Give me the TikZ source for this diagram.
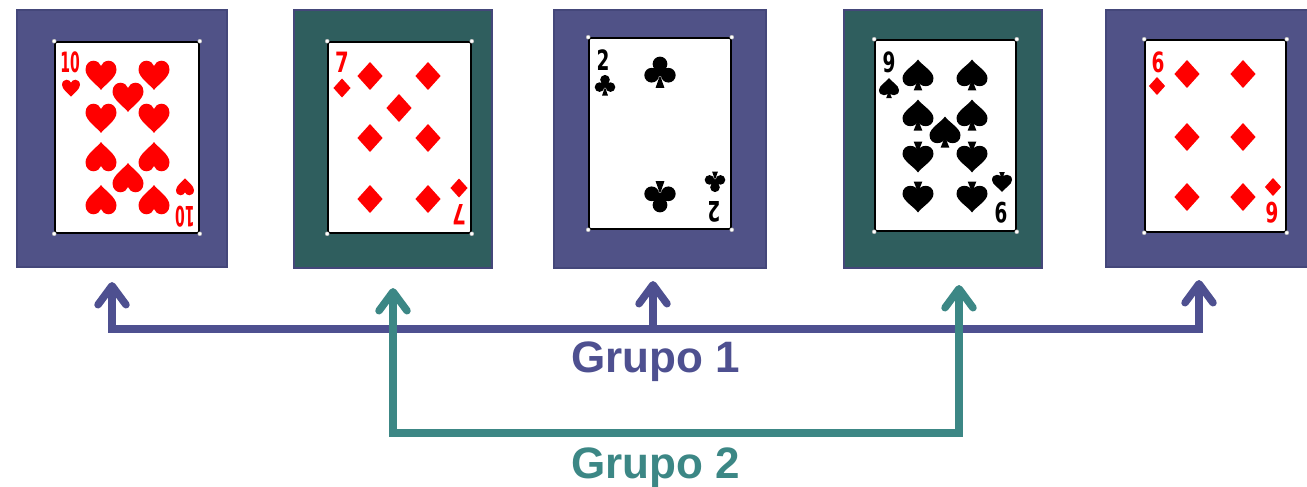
\documentclass[tikz,border=0pt]{standalone}
\usepackage{fontspec}
\setmainfont{Liberation Sans}
\newfontfamily\rankfont{DejaVu Sans}
\usetikzlibrary{arrows.meta}

\definecolor{grpone}{HTML}{4E5090}
\definecolor{grptwo}{HTML}{3C8785}
\definecolor{frameone}{HTML}{505287}
\definecolor{frametwo}{HTML}{2F5E5E}
\definecolor{frameedge}{HTML}{44477A}
\definecolor{pipred}{HTML}{FF0000}

\tikzset{
  x=1pt, y=-1pt,
  frameblue/.style={draw=frameedge, line width=1.4pt, fill=frameone, inner sep=0pt},
  frameteal/.style={draw=frameedge, line width=1.4pt, fill=frametwo, inner sep=0pt},
  cardface/.style={draw=black, line width=1.6pt, fill=white, rounded corners=1.5pt,
    inner sep=0pt, minimum height=191pt},
  rank/.style={inner sep=0pt, font=\rankfont\bfseries\fontsize{28}{28}\selectfont},
  barb/.tip={Straight Barb[round, length=19pt, width=28pt]},
  grponeline/.style={draw=grpone, line width=7.5pt, line join=miter, barb-barb},
  grptwoline/.style={draw=grptwo, line width=7.5pt, line join=miter, barb-barb},
  grplabel/.style={inner sep=0pt, anchor=base west, font=\bfseries\fontsize{44}{44}\selectfont},
  pics/heartpip/.style={code={
    \fill[pipred, yscale=-1] (0,-0.48) .. controls (-0.12,-0.32) and (-0.5,-0.08) .. (-0.5,0.17)
      .. controls (-0.5,0.36) and (-0.37,0.46) .. (-0.25,0.46)
      .. controls (-0.12,0.46) and (-0.03,0.38) .. (0,0.29)
      .. controls (0.03,0.38) and (0.12,0.46) .. (0.25,0.46)
      .. controls (0.37,0.46) and (0.5,0.36) .. (0.5,0.17)
      .. controls (0.5,-0.08) and (0.12,-0.32) .. cycle;}},
  pics/diamondpip/.style={code={
    \fill[pipred] (0,0.5) -- (0.45,0) -- (0,-0.5) -- (-0.45,0) -- cycle;}},
  pics/spadepip/.style={code={
    \fill[black, yscale=-1] (0,0.5) .. controls (0.12,0.32) and (0.5,0.12) .. (0.5,-0.1)
      .. controls (0.5,-0.28) and (0.37,-0.36) .. (0.25,-0.36)
      .. controls (0.13,-0.36) and (0.04,-0.3) .. (0,-0.2)
      .. controls (-0.04,-0.3) and (-0.13,-0.36) .. (-0.25,-0.36)
      .. controls (-0.37,-0.36) and (-0.5,-0.28) .. (-0.5,-0.1)
      .. controls (-0.5,0.12) and (-0.12,0.32) .. cycle
      (0,-0.15) -- (0.14,-0.5) -- (-0.14,-0.5) -- cycle;}},
  pics/clubpip/.style={code={
    \fill[black, yscale=-1] (0,0.25) circle (0.23) (-0.26,-0.1) circle (0.23)
      (0.26,-0.1) circle (0.23) (0,0.02) circle (0.15)
      (0,-0.1) -- (0.14,-0.5) -- (-0.14,-0.5) -- cycle;}},
}

\newcommand\cardcorners[1]{%
  \foreach \cc in {north west,north east,south west,south east}
    \filldraw[fill=white, draw=gray!60, line width=0.4pt] (#1.\cc) circle (2);}

\begin{document}
\begin{tikzpicture}
\useasboundingbox (0,0) rectangle (1307,487);
\clip (0,0) rectangle (1307,487);
\fill[white] (0,0) rectangle (1307,487);

% frames
\node[frameblue, minimum width=210pt, minimum height=257pt] (f1) at (122,138.5) {};
\node[frameteal, minimum width=198pt, minimum height=258pt] (f2) at (393,139) {};
\node[frameblue, minimum width=212pt, minimum height=258pt] (f3) at (660,139) {};
\node[frameteal, minimum width=198pt, minimum height=258pt] (f4) at (943,139) {};
\node[frameblue, minimum width=206pt, minimum height=257pt] (f5) at (1209,138.5) {};

% card faces
\node[cardface, minimum width=144pt] (c1) at (127,137.5) {};
\node[cardface, minimum width=143pt] (c2) at (399.5,137.5) {};
\node[cardface, minimum width=142pt] (c3) at (660,133.5) {};
\node[cardface, minimum width=141pt] (c4) at (945.5,135.5) {};
\node[cardface, minimum width=141pt, minimum height=192pt] (c5) at (1215.5,136) {};
\cardcorners{c1}\cardcorners{c2}\cardcorners{c3}\cardcorners{c4}\cardcorners{c5}

% ten of hearts
\node[rank, text=pipred] (r1a) at (70,62) {\scalebox{0.5}[1]{10}};
\pic[scale=18] at (71,88) {heartpip};
\pic[scale=18, rotate=180] at (185,187) {heartpip};
\node[rank, text=pipred, rotate=180] (r1b) at (185,217) {\scalebox{0.5}[1]{10}};
\foreach \px/\py in {101/75,154/75,128/97,101/118,154/118}
  \pic[scale=31] at (\px,\py) {heartpip};
\foreach \px/\py in {101/157,154/157,128/178,101/200,154/200}
  \pic[scale=31, rotate=180] at (\px,\py) {heartpip};

% seven of diamonds
\node[rank, text=pipred] (r2a) at (342,62) {\scalebox{0.7}[1]{7}};
\pic[scale=19] at (342,88) {diamondpip};
\pic[scale=19] at (459,188) {diamondpip};
\node[rank, text=pipred, rotate=180] (r2b) at (459,215) {\scalebox{0.7}[1]{7}};
\foreach \px/\py in {370/76,428/76,399/108,370/138,428/138,370/199,428/199}
  \pic[scale=28] at (\px,\py) {diamondpip};

% two of clubs
\node[rank] (r3a) at (603,60) {\scalebox{0.66}[1]{2}};
\pic[scale=21] at (605,85) {clubpip};
\pic[scale=21, rotate=180] at (715,182) {clubpip};
\node[rank, rotate=180] (r3b) at (714,212) {\scalebox{0.66}[1]{2}};
\pic[scale=32] at (660,72) {clubpip};
\pic[scale=32, rotate=180] at (660,197) {clubpip};

% nine of spades
\node[rank] (r4a) at (889,62) {\scalebox{0.66}[1]{9}};
\pic[scale=20] at (889,88) {spadepip};
\pic[scale=20, rotate=180] at (1002,182) {spadepip};
\node[rank, rotate=180] (r4b) at (1001,213) {\scalebox{0.66}[1]{9}};
\foreach \px/\py in {918/75,972/75,918/115,972/115,945/132}
  \pic[scale=31] at (\px,\py) {spadepip};
\foreach \px/\py in {918/157,972/157,918/197,972/197}
  \pic[scale=31, rotate=180] at (\px,\py) {spadepip};

% six of diamonds
\node[rank, text=pipred] (r5a) at (1158,62) {\scalebox{0.66}[1]{6}};
\pic[scale=18] at (1157,86) {diamondpip};
\pic[scale=18] at (1273,187) {diamondpip};
\node[rank, text=pipred, rotate=180] (r5b) at (1272,213) {\scalebox{0.66}[1]{6}};
\foreach \px/\py in {1187/74,1243/74,1187/137,1243/137,1187/197,1243/197}
  \pic[scale=28] at (\px,\py) {diamondpip};

% group brackets
\coordinate (a1) at (112,282);
\coordinate (a3) at (653,281);
\coordinate (a5) at (1199,280);
\coordinate (h1) at (0,329);
\coordinate (b2) at (393,288);
\coordinate (b4) at (959,285);
\coordinate (h2) at (0,433);

\draw[grponeline] (a1) -- (a1 |- h1) -- (a5 |- h1) -- (a5);
\draw[grponeline, -barb] (a3 |- h1) -- (a3);
\draw[grptwoline] (b2) -- (b2 |- h2) -- (b4 |- h2) -- (b4);

\node[grplabel, text=grpone] (g1) at (571,372) {Grupo 1};
\node[grplabel, text=grptwo] (g2) at (571,478) {Grupo 2};
\end{tikzpicture}
\end{document}
